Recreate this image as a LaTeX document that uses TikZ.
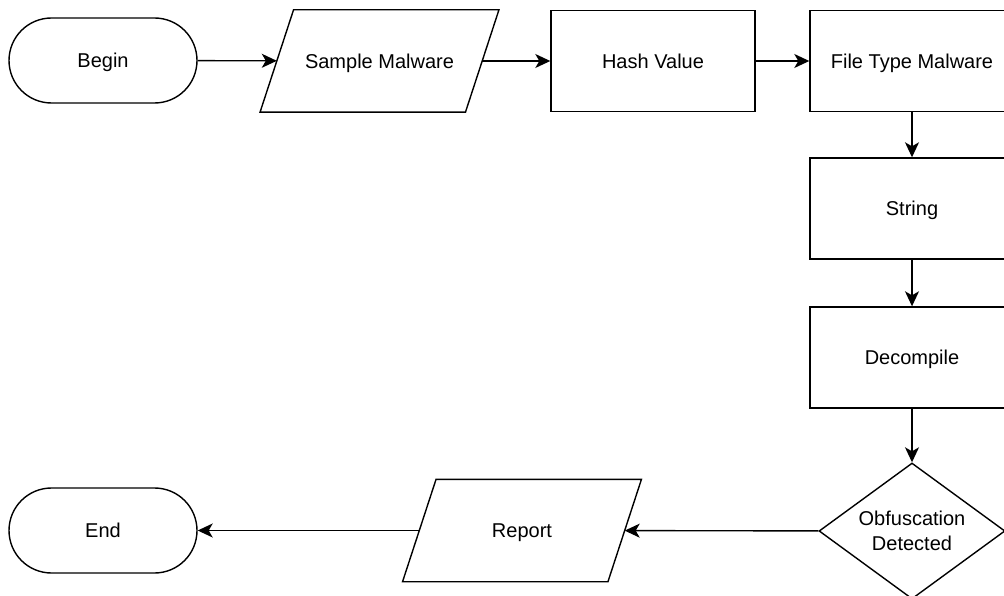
\documentclass[tikz,border=0pt]{standalone}
\usepackage{fontspec}
\setmainfont{Liberation Sans}
\usetikzlibrary{shapes.geometric,arrows.meta}
\begin{document}
\begin{tikzpicture}[x=1pt,y=-1pt,
  every node/.style={font=\fontsize{20}{24.5}\selectfont, line width=1.4pt, inner sep=0pt},
  oneline/.style={text height=14.3pt, text depth=0pt},
  term/.style={draw, oneline, rectangle, rounded corners=42.5pt, minimum width=188pt, minimum height=85pt},
  io/.style={rectangle, oneline, minimum width=204pt, minimum height=101pt},
  iobox/.style={line width=1.4pt, line join=miter},
  proc/.style={draw, oneline, rectangle, minimum width=204pt, minimum height=101pt},
  dec/.style={draw, diamond, aspect=1.37, minimum width=186pt, minimum height=136pt, align=center},
  conn/.style={line width=1.4pt, -{Stealth[length=15pt, width=14pt, inset=4pt]}}]
\clip (0,0) rectangle (1004,596);
\node[term] (begin) at (103,60.5) {Begin};
\node[io] (sample) at (379.5,61) {Sample Malware};
\node[proc] (hash) at (653,61) {Hash Value};
\node[proc] (ftm) at (912,61) {File Type Malware};
\node[proc] (string) at (912,208.5) {String};
\node[proc] (decomp) at (912,357.5) {Decompile};
\node[dec] (obf) at (912,531) {Obfuscation\\Detected};
\node[io] (report) at (522,530.5) {Report};
\node[term] (end) at (103,530.5) {End};
\foreach \n in {sample,report}{
  \draw[iobox] ([xshift=16.75pt]\n.north west) -- ([xshift=16.75pt]\n.north east)
    -- ([xshift=-16.75pt]\n.south east) -- ([xshift=-16.75pt]\n.south west) -- cycle;
}
\draw[conn] (begin) -- (sample);
\draw[conn] (sample) -- (hash);
\draw[conn] (hash) -- (ftm);
\draw[conn] (ftm) -- (string);
\draw[conn] (string) -- (decomp);
\draw[conn] (decomp) -- (obf);
\draw[conn] (obf) -- (report);
\draw[conn] (report) -- (end);
\end{tikzpicture}
\end{document}
